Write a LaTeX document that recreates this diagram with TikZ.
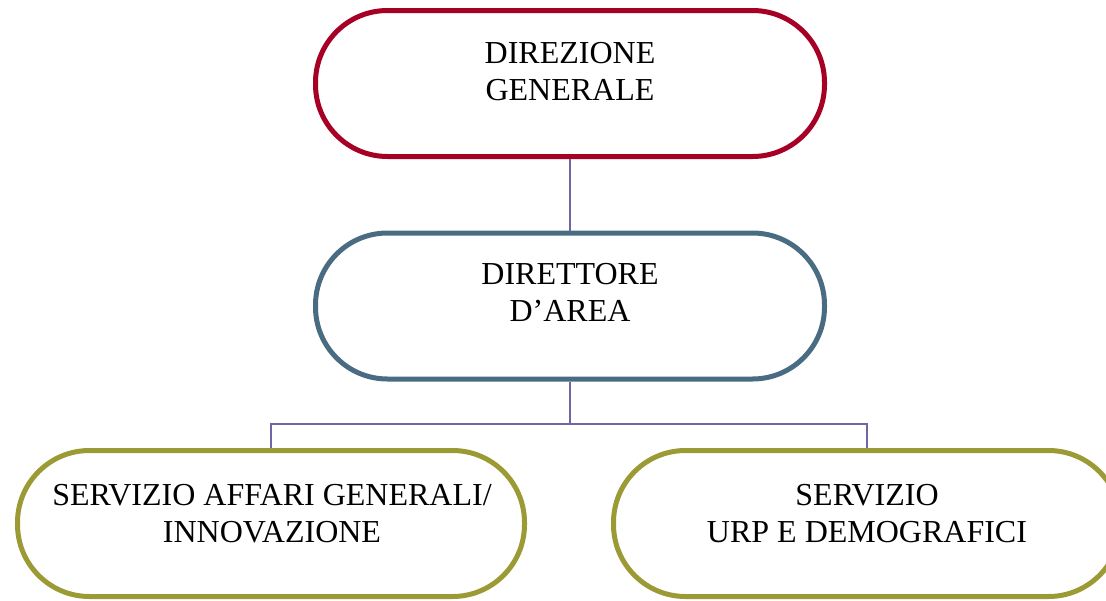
\documentclass[tikz,border=0pt]{standalone}
\usepackage{fontspec}
\setmainfont{Liberation Serif}
\usepackage{tikz}
\usetikzlibrary{positioning}

\definecolor{dgred}{RGB}{166,0,36}
\definecolor{daslate}{RGB}{74,108,130}
\definecolor{svolive}{RGB}{156,154,52}
\definecolor{linkviolet}{RGB}{109,104,163}

\begin{document}
\begin{tikzpicture}[x=1pt,y=-1pt]
\useasboundingbox (0,0) rectangle (1106,600);
\tikzset{Box/.style =
{draw, line width=5pt, rounded corners=72pt,
minimum width=509pt, minimum height=146pt, fill=white}}
\tikzset{Txt/.style =
{align=center, inner sep=0pt, anchor=base,
font=\fontsize{32}{37}\selectfont}}
\tikzset{Link/.style = {draw=linkviolet, line width=1.5pt}}
% boxes
\node[Box, draw=dgred] (dg) at (570,83.5) {};
\node[Box, draw=daslate] (da) at (570,306) {};
\node[Box, draw=svolive, minimum width=507pt] (sag) at (271,523.5) {};
\node[Box, draw=svolive, minimum width=507pt] (urp) at (867,523.5) {};
% texts (base = last line)
\node[Txt] (dgtxt) at (570,100) {DIREZIONE\\GENERALE};
\node[Txt] (datxt) at (570,321) {DIRETTORE\\D’AREA};
\node[Txt] (sagtxt) at (272,542) {SERVIZIO AFFARI GENERALI/\\INNOVAZIONE};
\node[Txt] (urptxt) at (867,542) {SERVIZIO\\URP E DEMOGRAFICI};
% connectors
\coordinate (bus) at (570,424);
\draw[Link] (dg.south) -- (da.north);
\draw[Link] (da.south) -- (bus);
\draw[Link] (bus) -| (sag.north);
\draw[Link] (bus) -| (urp.north);
\end{tikzpicture}
\end{document}
